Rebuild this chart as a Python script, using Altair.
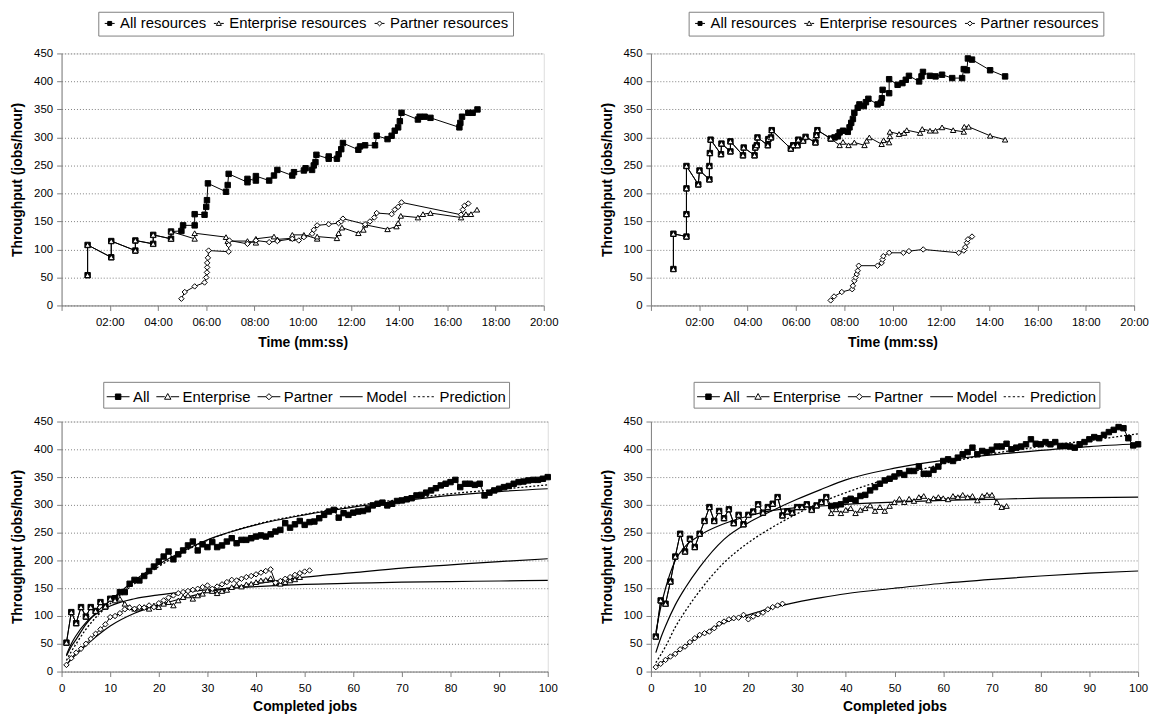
import altair as alt
import pandas as pd

FONT = "Liberation Sans"

# ---------------- top-left: throughput over time (minutes) ----------------
TL_ALL_T = [1.08, 1.08, 2.06, 2.06, 3.06, 3.06, 3.80, 3.80, 4.54, 4.54, 4.97, 5.04, 5.52, 5.52, 5.93, 6.0, 6.03, 6.07,
            6.82, 6.89, 6.93, 7.71, 7.71, 8.06, 8.06, 8.61, 8.81, 8.95, 9.57, 9.64, 10.05, 10.12, 10.39, 10.46, 10.53,
            10.57, 11.08, 11.08, 11.42, 11.49, 11.6, 11.67, 12.31, 12.38, 12.59, 13.0, 13.07, 13.52, 13.69, 13.82,
            13.96, 14.03, 14.1, 14.78, 14.85, 15.06, 15.3, 16.5, 16.54, 16.61, 16.87, 17.05, 17.25]
TL_ALL_V = [54, 108, 86, 115, 98, 116, 110, 126, 119, 132, 133, 143, 143, 163, 162, 176, 188, 218,
            203, 215, 235, 220, 226, 223, 231, 223, 232, 242, 232, 238, 241, 245, 242, 250, 256,
            269, 262, 266, 262, 270, 279, 290, 278, 284, 286, 286, 303, 297, 303, 312,
            318, 329, 344, 332, 337, 337, 335, 318, 326, 337, 344, 344, 350]
TL_ENT_T = [1.08, 1.08, 2.06, 2.06, 3.06, 3.06, 3.80, 3.80, 4.54, 4.54, 5.52, 5.52, 6.82, 6.89, 7.71, 8.06, 8.06,
            8.81, 8.95, 9.57, 9.57, 10.05, 10.6, 10.6, 11.42, 11.49, 11.63, 12.31, 12.52, 12.59, 13.52, 13.89,
            13.96, 14.07, 14.78, 14.99, 15.3, 16.57, 16.77, 16.98, 17.23]
TL_ENT_V = [54, 108, 86, 115, 98, 116, 110, 126, 119, 132, 119, 129, 122, 115, 115, 112, 119,
            123, 118, 120, 126, 126, 119, 123, 120, 129, 139, 129, 135, 144, 136, 141,
            147, 160, 157, 163, 165, 157, 163, 163, 171]
TL_PAR_T = [4.97, 5.11, 5.52, 5.93, 6.0, 6.03, 6.04, 6.04, 6.07, 6.1, 6.93, 6.93, 6.96, 7.71, 8.06, 8.61, 8.95,
            9.57, 9.84, 10.05, 10.39, 10.46, 10.6, 11.08, 11.49, 11.6, 11.67, 12.59, 12.79, 12.97, 13.07, 13.69,
            13.82, 13.96, 14.1, 16.57, 16.64, 16.71, 16.87]
TL_PAR_V = [12, 24, 34, 41, 50, 59, 68, 76, 85, 98, 96, 108, 116, 110, 116, 113, 115,
            119, 116, 122, 128, 135, 143, 145, 147, 150, 155, 145, 150, 157, 165, 163,
            171, 176, 184, 162, 171, 178, 182]

# ---------------- top-right ----------------
TR_ALL_T = [0.93, 0.93, 1.47, 1.47, 1.47, 1.47, 1.96, 2.01, 2.42, 2.42,
            2.44, 2.47, 2.9, 2.92, 3.29, 3.29, 3.81, 3.84, 4.29, 4.32,
            4.38, 4.41, 4.84, 4.86, 4.97, 5.0, 5.79, 5.89, 6.07, 6.1,
            6.3, 6.4, 6.81, 6.85, 6.89, 7.44, 7.6, 7.74, 7.81, 7.95,
            8.15, 8.22, 8.29, 8.36, 8.42, 8.56, 8.63, 8.81, 8.9, 9.0,
            9.38, 9.52, 9.56, 9.59, 9.86, 9.86, 10.21, 10.41, 10.55, 10.68,
            11.1, 11.2, 11.26, 11.55, 11.78, 12.05, 12.47, 12.88, 12.95, 13.08,
            13.12, 13.29, 14.04, 14.66]
TR_ALL_V = [65, 128, 123, 163, 209, 249, 216, 241, 225, 249,
            272, 296, 270, 289, 275, 293, 268, 282, 268, 282,
            286, 300, 286, 297, 300, 313, 280, 286, 286, 296,
            294, 301, 291, 304, 313, 298, 300, 302, 309, 312,
            310, 318, 326, 333, 344, 353, 359, 356, 363, 369,
            359, 362, 370, 385, 379, 404, 394, 397, 403, 410,
            400, 409, 417, 410, 409, 412, 406, 406, 422, 420,
            441, 439, 420, 409]
TR_ENT_T = TR_ALL_T[:36] + [7.81, 7.95, 8.18, 8.42, 8.84, 8.93, 9.04, 9.55, 9.63, 9.86, 9.89, 9.89, 10.27,
                            10.48, 10.59, 11.14, 11.23, 11.55, 11.78, 12.05, 12.51, 12.95, 12.97, 13.15,
                            14.04, 14.66]
TR_ENT_V = TR_ALL_V[:36] + [286, 292, 286, 291, 286, 294, 300, 288, 295, 291, 302, 310, 306,
                            308, 313, 308, 315, 312, 312, 318, 313, 310, 319, 319,
                            303, 296]
TR_PAR_T = [7.44, 7.58, 7.9, 8.33, 8.36, 8.42, 8.47, 8.52, 8.56, 8.6, 9.38, 9.55, 9.59, 9.62, 9.86,
            10.45, 10.68, 11.27, 12.74, 12.95, 13.01, 13.08, 13.12, 13.29]
TR_PAR_V = [9, 16, 24, 29, 35, 44, 50, 56, 62, 71, 71, 76, 82, 88, 94,
            94, 97, 100, 94, 98, 104, 112, 118, 123]

# ---------------- bottom-left: throughput vs completed jobs ----------------
BL_ALL = [52, 107, 87, 116, 99, 116, 109, 125, 117, 131,
          132, 143, 143, 158, 165, 164, 172, 181, 189, 198,
          207, 216, 202, 211, 218, 227, 234, 218, 229, 224,
          233, 224, 227, 234, 240, 231, 237, 237, 240, 243,
          245, 243, 247, 252, 255, 267, 259, 265, 271, 264,
          269, 270, 276, 282, 288, 291, 277, 285, 282, 286,
          288, 289, 292, 299, 302, 304, 299, 302, 307, 308,
          310, 312, 317, 318, 322, 326, 330, 335, 338, 341,
          345, 332, 338, 338, 336, 338, 317, 322, 326, 329,
          332, 334, 338, 341, 342, 344, 345, 345, 347, 350]
BL_ENT = [52, 107, 87, 116, 99, 116, 109, 125, 117, 131,
          128, 131, 122, 116, 113, 115, 116, 113, 119, 116,
          122, 125, 119, 128, 134, 137, 131, 137, 140, 146,
          145, 141, 145, 147, 152, 155, 153, 157, 158, 161,
          164, 165, 168, 159, 158, 161, 164, 166, 170]
BL_PAR = [12, 24, 34, 41, 50, 59, 68, 76, 85, 98,
          100, 105, 112, 115, 113, 116, 115, 119, 116, 123,
          128, 133, 137, 141, 143, 145, 147, 149, 152, 155,
          149, 153, 157, 161, 165, 164, 167, 170, 172, 175,
          178, 181, 184, 160, 163, 167, 170, 174, 177, 180,
          182]
BL_MODEL_X = [1, 2, 3, 5, 7, 10, 15, 20, 25, 30, 40, 50, 60, 70, 80, 90, 100]
BL_MODEL_ALL = [28, 45, 58, 85, 105, 128, 164, 193, 217, 237, 264, 282, 296, 307, 317, 324, 329]
BL_MODEL_ENT = [30, 50, 65, 88, 103, 118, 131, 138, 143, 147, 153, 157, 159, 161, 162, 163, 164]
BL_MODEL_PAR = [12, 22, 31, 47, 62, 82, 105, 120, 132, 143, 158, 170, 178, 186, 192, 198, 203]
BL_PRED = [20, 36, 50, 76, 97, 122, 158, 189, 215, 236, 265, 283, 298, 310, 320, 328, 336]

# ---------------- bottom-right ----------------
BR_ALL = [63, 128, 122, 162, 207, 248, 216, 239, 224, 248,
          271, 296, 271, 289, 276, 292, 267, 282, 265, 282,
          288, 301, 286, 296, 302, 314, 281, 288, 286, 296,
          296, 301, 291, 299, 305, 314, 298, 299, 301, 308,
          311, 308, 316, 318, 326, 332, 338, 344, 347, 351,
          357, 354, 361, 361, 369, 356, 356, 363, 369, 379,
          382, 379, 385, 391, 395, 403, 391, 397, 395, 399,
          405, 405, 410, 400, 403, 405, 409, 418, 410, 409,
          413, 409, 413, 406, 406, 405, 403, 409, 413, 418,
          422, 420, 426, 431, 435, 440, 438, 420, 407, 409]
BR_ENT = BR_ALL[:36] + [285, 292, 285, 291, 294, 285, 291, 294, 299, 289, 296, 289, 298, 305, 311, 305,
                        311, 307, 314, 316, 308, 312, 314, 312, 310, 316, 314, 318, 314, 316, 308, 316,
                        318, 318, 305, 296, 298]
BR_PAR = [8, 14, 21, 27, 32, 40, 45, 53, 60, 66, 69, 72, 78, 86, 90, 94, 96, 97, 102, 94,
          99, 103, 106, 112, 116, 119, 122]
BR_MODEL_X = [1, 2, 3, 5, 7, 10, 15, 20, 25, 30, 35, 40, 50, 60, 70, 80, 90, 100]
BR_MODEL_ALL = [34, 60, 82, 120, 150, 188, 238, 268, 290, 310, 328, 345, 366, 380, 390, 398, 405, 410]
BR_MODEL_ENT = [70, 115, 150, 200, 225, 245, 266, 280, 290, 295, 298, 301, 305, 308, 310, 312, 313, 314]
BR_MODEL_PAR = [8, 15, 21, 33, 45, 64, 88, 102, 115, 125, 133, 140, 150, 159, 166, 172, 177, 181]
BR_PRED_X = [1, 2, 3, 5, 7, 10, 15, 20, 25, 30, 35, 40, 45, 50, 60, 70, 80, 90, 100]
BR_PRED = [16, 30, 45, 80, 108, 145, 196, 232, 260, 284, 305, 322, 337, 350, 374, 392, 405, 416, 428]

# ---------------- axes / legend text ----------------
TIME_TICKS = [0, 2, 4, 6, 8, 10, 12, 14, 16, 18, 20]
JOB_TICKS = [0, 10, 20, 30, 40, 50, 60, 70, 80, 90, 100]
Y_TICKS = [0, 50, 100, 150, 200, 250, 300, 350, 400, 450]
TOP_NAMES = ["All resources", "Enterprise resources", "Partner resources"]
BOT_NAMES = ["All", "Enterprise", "Partner", "Model", "Prediction"]
Y_TITLE = "Throughput (jobs/hour)"
TOP_X_TITLE = "Time (mm:ss)"
BOT_X_TITLE = "Completed jobs"


def series_df(names, xs_list, ys_list):
    rows = []
    for name, xs, ys in zip(names, xs_list, ys_list):
        for i, (x, y) in enumerate(zip(xs, ys)):
            rows.append({"series": name, "x": x, "y": y, "i": i})
    return pd.DataFrame(rows)


def jobs(vals):
    return list(range(1, len(vals) + 1))


def curve_df(name, xs, ys):
    return pd.DataFrame({"curve": name, "x": xs, "y": ys})


Y_SCALE = alt.Scale(domain=[0, 450], nice=False, zero=True)
AXIS_COMMON = dict(domainColor="#808080", tickColor="#808080", tickSize=5, labelFont=FONT, labelFontSize=11.5,
                   labelColor="black", titleFont=FONT, titleFontSize=14, titleFontWeight="bold",
                   titleColor="black", labelFlush=False, labelOverlap=False)
Y_AXIS = alt.Axis(values=Y_TICKS, title=Y_TITLE, grid=True, gridDash=[1, 2], gridColor="#808080",
                  labelPadding=4, titlePadding=9, **AXIS_COMMON)
TIME_AXIS = alt.Axis(values=TIME_TICKS, title=TOP_X_TITLE, grid=False, labelPadding=6, titlePadding=8,
                     labelExpr="datum.value == 0 ? '' : (datum.value < 10 ? '0' : '') + datum.value + ':00'",
                     **AXIS_COMMON)
JOB_AXIS = alt.Axis(values=JOB_TICKS, title=BOT_X_TITLE, grid=False, labelPadding=6, titlePadding=6,
                    **AXIS_COMMON)
TIME_SCALE = alt.Scale(domain=[0, 20], nice=False, zero=True)
JOB_SCALE = alt.Scale(domain=[0, 100], nice=False, zero=True)

TOP_PATHS = ["M-1,0H1M-0.4,-0.4H0.4V0.4H-0.4Z",
             "M-1,0H-0.45M0.45,0H1M0,-0.5L0.5,0.4H-0.5Z",
             "M-1,0H-0.5M0.5,0H1M0,-0.5L0.5,0L0,0.5L-0.5,0Z"]
BOT_PATHS = ["M-1,0H1M-0.24,-0.24H0.24V0.24H-0.24Z",
             "M-1,0H-0.26M0.26,0H1M0,-0.28L0.28,0.22H-0.28Z",
             "M-1,0H-0.27M0.27,0H1M0,-0.27L0.27,0L0,0.27L-0.27,0Z",
             "M-1,0H1",
             "M-1,0H-0.8M-0.6,0H-0.4M-0.2,0H0M0.2,0H0.4M0.6,0H0.8"]


def panel(data_df, names, x_scale, x_axis, width, height, leg_names, leg_paths, leg_fills, legend,
          model_df=None, pred_df=None):
    X = alt.X("x:Q", scale=x_scale, axis=x_axis)
    Y = alt.Y("y:Q", scale=Y_SCALE, axis=Y_AXIS)
    layers = []
    if model_df is not None:
        layers.append(alt.Chart(model_df).mark_line(color="black", strokeWidth=1.2, interpolate="monotone")
                      .encode(x=X, y=Y, detail="curve:N"))
    if pred_df is not None:
        layers.append(alt.Chart(pred_df).mark_line(color="black", strokeWidth=1.3, strokeDash=[2, 2],
                                                   interpolate="monotone")
                      .encode(x=X, y=Y))
    layers.append(alt.Chart(data_df).mark_line(color="black", strokeWidth=1)
                  .encode(x=X, y=Y, detail="series:N", order="i:Q"))
    layers.append(alt.Chart(data_df).mark_point(filled=True, stroke="black", strokeWidth=1, size=30, opacity=1)
                  .encode(x=X, y=Y,
                          shape=alt.Shape("series:N", scale=alt.Scale(domain=names,
                                                                      range=["square", "triangle-up", "diamond"]),
                                          legend=None),
                          fill=alt.Fill("series:N", scale=alt.Scale(domain=names,
                                                                    range=["black", "white", "white"]),
                                        legend=None)))
    layers.append(alt.Chart(data_df).transform_filter("false")
                  .mark_point(filled=False, strokeWidth=1, opacity=1)
                  .encode(x=X, y=Y,
                          shape=alt.Shape("series:N", scale=alt.Scale(domain=leg_names, range=leg_paths),
                                          legend=legend),
                          fill=alt.Fill("series:N", scale=alt.Scale(domain=leg_names, range=leg_fills),
                                        legend=legend),
                          stroke=alt.Stroke("series:N",
                                            scale=alt.Scale(domain=leg_names, range=["black"] * len(leg_names)),
                                            legend=legend)))
    return (alt.layer(*layers)
            .resolve_scale(shape="independent", fill="independent", stroke="independent")
            .properties(width=width, height=height))


def top_legend(lx):
    return alt.Legend(title=None, orient="none", legendX=lx, legendY=-42, direction="horizontal",
                      strokeColor="#808080", fillColor="white", padding=4, symbolSize=100,
                      symbolStrokeWidth=1, symbolOpacity=1,
                      labelFont=FONT, labelFontSize=15, labelColor="black", labelOffset=3, columnPadding=5)


def bot_legend(lx):
    return alt.Legend(title=None, orient="none", legendX=lx, legendY=-40, direction="horizontal",
                      strokeColor="#808080", fillColor="white", padding=3, symbolSize=529,
                      symbolStrokeWidth=1, symbolOpacity=1,
                      labelFont=FONT, labelFontSize=15, labelColor="black", labelOffset=3, columnPadding=4)


tl_df = series_df(TOP_NAMES, [TL_ALL_T, TL_ENT_T, TL_PAR_T], [TL_ALL_V, TL_ENT_V, TL_PAR_V])
tr_df = series_df(TOP_NAMES, [TR_ALL_T, TR_ENT_T, TR_PAR_T], [TR_ALL_V, TR_ENT_V, TR_PAR_V])
bl_df = series_df(BOT_NAMES[:3], [jobs(BL_ALL), jobs(BL_ENT), jobs(BL_PAR)], [BL_ALL, BL_ENT, BL_PAR])
br_df = series_df(BOT_NAMES[:3], [jobs(BR_ALL), jobs(BR_ENT), jobs(BR_PAR)], [BR_ALL, BR_ENT, BR_PAR])

bl_models = pd.concat([curve_df("all", BL_MODEL_X, BL_MODEL_ALL), curve_df("ent", BL_MODEL_X, BL_MODEL_ENT),
                       curve_df("par", BL_MODEL_X, BL_MODEL_PAR)])
br_models = pd.concat([curve_df("all", BR_MODEL_X, BR_MODEL_ALL), curve_df("ent", BR_MODEL_X, BR_MODEL_ENT),
                       curve_df("par", BR_MODEL_X, BR_MODEL_PAR)])
bl_pred = curve_df("pred", BL_MODEL_X, BL_PRED)
br_pred = curve_df("pred", BR_PRED_X, BR_PRED)

TOP_FILLS = ["black", "white", "white"]
BOT_FILLS = ["black", "white", "white", "white", "white"]

tl = panel(tl_df, TOP_NAMES, TIME_SCALE, TIME_AXIS, 486, 254, TOP_NAMES, TOP_PATHS, TOP_FILLS, top_legend(37))
tr = panel(tr_df, TOP_NAMES, TIME_SCALE, TIME_AXIS, 487, 254, TOP_NAMES, TOP_PATHS, TOP_FILLS, top_legend(38))
bl = panel(bl_df, BOT_NAMES[:3], JOB_SCALE, JOB_AXIS, 490, 252, BOT_NAMES, BOT_PATHS, BOT_FILLS, bot_legend(42),
           bl_models, bl_pred)
br = panel(br_df, BOT_NAMES[:3], JOB_SCALE, JOB_AXIS, 491, 252, BOT_NAMES, BOT_PATHS, BOT_FILLS, bot_legend(43),
           br_models, br_pred)

chart = (alt.concat(tl, tr, bl, br, columns=2, spacing={"row": 117, "column": 104}, bounds="flush")
         .resolve_scale(x="independent", y="independent", shape="independent", fill="independent",
                        stroke="independent")
         .resolve_legend(shape="independent", fill="independent", stroke="independent")
         .configure_view(stroke="#808080", strokeWidth=1)
         .configure(font=FONT, padding={"left": 2, "top": 0, "right": 0, "bottom": 0}))

chart.save("out.html", embed_options={"renderer": "svg", "actions": False})
